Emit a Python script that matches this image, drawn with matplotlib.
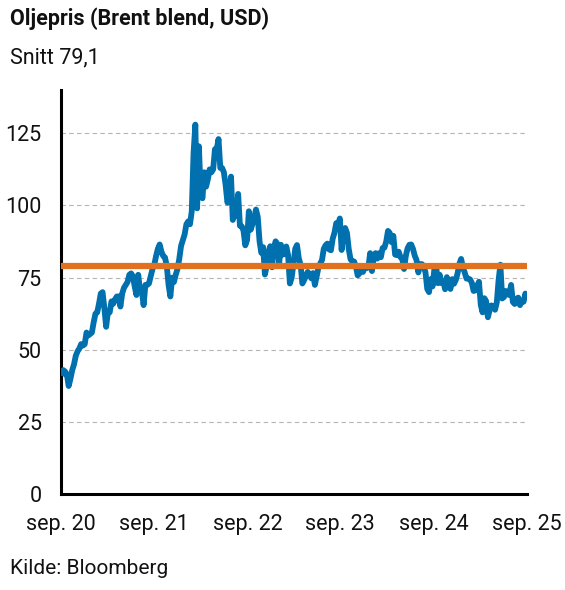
# brent oil price chart, weekly closes
import pandas as pd
import matplotlib
matplotlib.use("Agg")
import matplotlib.pyplot as plt

plt.rcParams['font.family'] = ['Roboto', 'DejaVu Sans']

title = "Oljepris (Brent blend, USD)"
subtitle = "Snitt 79,1"
source = "Kilde: Bloomberg"

avg = 79.1
start = "2020-10-02"  # first friday in the series

brent_2020 = [41, 43, 42.5, 41.5, 37.5, 40, 43, 45, 48, 49.5, 50.5, 52, 51.5]
brent_2021 = [52, 56, 55, 55.5, 56, 59.5, 62.5, 63, 66, 69.5, 70, 64.5, 58,
              63, 63, 66.8, 66, 67.5, 68.5, 68.5, 65, 69.5, 71.5, 72.5, 73.5, 76,
              76.5, 75.5, 72, 69, 76, 70.5, 70.5, 65.5, 72.5, 72.5, 73, 75.5, 78,
              79.5, 82.5, 85, 86.5, 84, 82.5, 82, 79, 72.5, 68.5, 75, 73.5, 76, 78]
brent_2022 = [81.5, 86, 88, 90, 93.5, 94.5, 93.5, 98, 118, 128, 99, 120.5,
              104.5, 102.5, 111.5, 106.5, 109, 112.5, 111.5, 112.5, 119.5, 119.5,
              123, 113, 113, 111.5, 107, 101, 103, 110, 95, 98, 96.5, 104, 93,
              92.8, 91.3, 86.2, 88, 98, 91.6, 93.5, 95.8, 98.6, 96, 87.6, 83.6,
              85.6, 76.1, 79, 83.9, 85.9]
brent_2023 = [78.6, 85.3, 87.6, 86.7, 80, 86.4, 83, 83.2, 85.8, 82.8, 73, 75,
              79.8, 85, 86.3, 81.7, 79.5, 73, 74.2, 75.6, 77, 76.1, 74.8, 76.6,
              72.5, 75.4, 78.5, 79.9, 81.1, 85, 86.2, 86.8, 84.8, 84.5, 88.5, 90.6,
              93.9, 93.3, 95.5, 84.6, 90.9, 92.2, 90.5, 84.9, 81.4, 80.6, 80.6,
              78.9, 75.8, 76.5, 79.1, 77]
brent_2024 = [78.8, 78.3, 78.6, 83.5, 77.3, 82.2, 83.5, 81.6, 83.5, 82.1, 85.3,
              85.4, 87.5, 91.2, 90.5, 87.3, 89.5, 83, 82.8, 84, 82.1, 81.6, 78,
              82.6, 85.2, 86.4, 86.5, 85, 82.6, 81.1, 76.8, 79.7, 79.7, 79, 76.9,
              71.1, 70, 74.5, 72, 78, 79, 73.1, 76, 73.1, 73.9, 71, 75.2, 72.9,
              71.1, 74.5, 72.9, 74.2]
brent_2025 = [76.5, 79.8, 81.5, 78.5, 76.8, 74.7, 74.7, 74.4, 73.2, 70.4, 70.6,
              72.2, 73.6, 65.6, 63, 67.9, 66.9, 61.3, 63.9, 65.4, 64.8, 63.9, 66.5,
              74.2, 79.5, 67.8, 68.3, 70.4, 69.3, 69, 72.5, 66.6, 65.9, 67.7, 68.1,
              65.5, 67, 66.7, 69.5, 67.5]

tick_years = [2020, 2021, 2022, 2023, 2024, 2025]
tick_labels = ["sep. 20", "sep. 21", "sep. 22", "sep. 23", "sep. 24", "sep. 25"]
y_ticks = [0, 25, 50, 75, 100, 125]

prices = brent_2020 + brent_2021 + brent_2022 + brent_2023 + brent_2024 + brent_2025
dates = pd.date_range(start, periods=len(prices), freq="W-FRI")

BLUE = "#0071ae"
ORANGE = "#e2711f"

fig = plt.figure(figsize=(5.65, 5.90), dpi=100)
ax = fig.add_axes([0.108, 0.1622, 0.825, 0.6853])

ax.plot(dates, prices, color=BLUE, lw=4.2, solid_joinstyle="round",
        solid_capstyle="butt", zorder=3)
ax.axhline(avg, color=ORANGE, lw=4.5, zorder=4)

ax.set_ylim(0, 140)
ax.set_xlim(pd.Timestamp("2020-09-30"), dates[-1])
ax.set_yticks(y_ticks)
ax.set_xticks([pd.Timestamp(f"{y}-10-01") for y in tick_years])
ax.set_xticklabels(tick_labels)

ax.yaxis.grid(True, linestyle=(0, (4, 3)), color="#b5b5b5", lw=0.8)
ax.set_axisbelow(True)

for s in ["top", "right"]:
    ax.spines[s].set_visible(False)
for s in ["left", "bottom"]:
    ax.spines[s].set_linewidth(2.2)
    ax.spines[s].set_color("black")
ax.tick_params(length=0, labelsize=15.5, colors="#111111")
ax.tick_params(axis="y", pad=14)
ax.tick_params(axis="x", pad=14)

fig.text(0.018, 1 - 19 / 590, title, fontsize=15.5, fontweight="bold",
         va="center", ha="left", color="#111111")
fig.text(0.018, 1 - 58 / 590, subtitle, fontsize=15.5,
         va="center", ha="left", color="#111111")
fig.text(0.018, 1 - 568 / 590, source, fontsize=15,
         va="center", ha="left", color="#111111")

fig.savefig("out.png", dpi=100)
